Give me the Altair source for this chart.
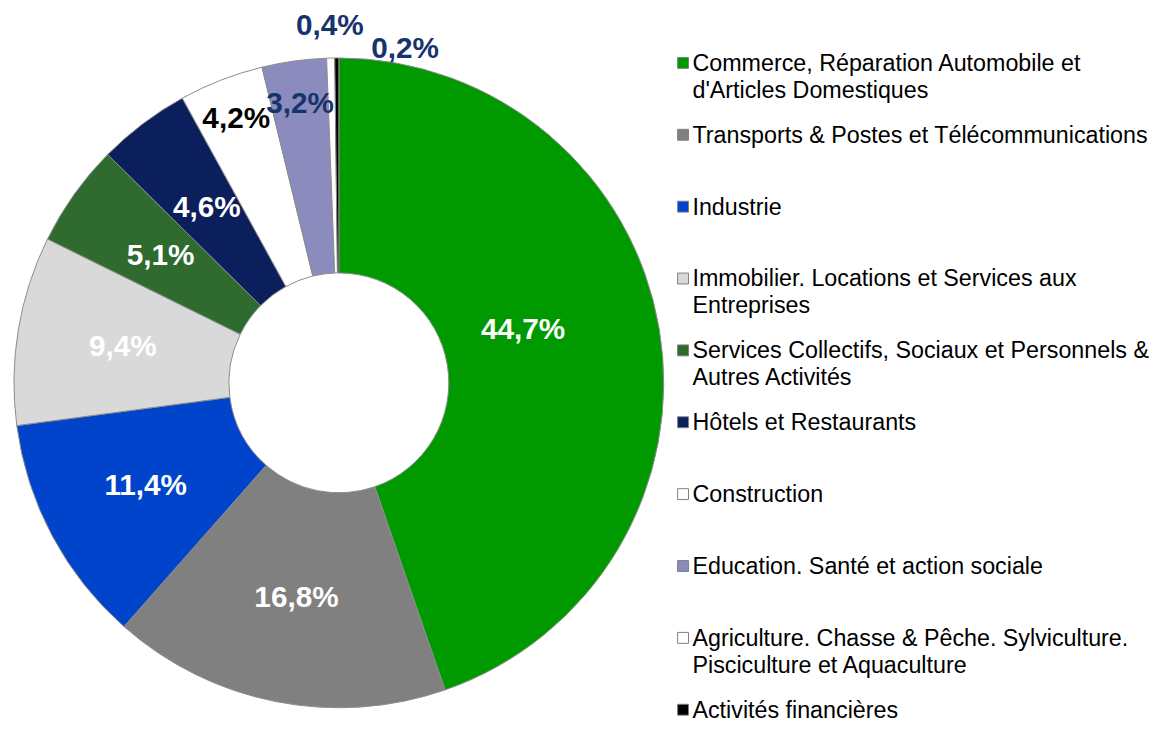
import math
import altair as alt
import pandas as pd

categories = [
    "Commerce, Réparation Automobile et d'Articles Domestiques",
    "Transports & Postes et Télécommunications",
    "Industrie",
    "Immobilier. Locations et Services aux Entreprises",
    "Services Collectifs, Sociaux et Personnels & Autres Activités",
    "Hôtels et Restaurants",
    "Construction",
    "Education. Santé et action sociale",
    "Agriculture. Chasse & Pêche. Sylviculture. Pisciculture et Aquaculture",
    "Activités financières",
]
legend_labels = [
    "Commerce, Réparation Automobile et\nd'Articles Domestiques",
    "Transports & Postes et Télécommunications",
    "Industrie",
    "Immobilier. Locations et Services aux\nEntreprises",
    "Services Collectifs, Sociaux et Personnels &\nAutres Activités",
    "Hôtels et Restaurants",
    "Construction",
    "Education. Santé et action sociale",
    "Agriculture. Chasse & Pêche. Sylviculture.\nPisciculture et Aquaculture",
    "Activités financières",
]
values = [44.7, 16.8, 11.4, 9.4, 5.1, 4.6, 4.2, 3.2, 0.4, 0.2]
colors = ["#009900", "#808080", "#0044cc", "#d9d9d9", "#2f6b2f",
          "#0a1f5c", "#ffffff", "#8b8bbd", "#ffffff", "#000000"]

df = pd.DataFrame({
    "cat": categories,
    "legend": legend_labels,
    "value": values,
    "order": list(range(len(values))),
    "label": [f"{v:.1f}".replace(".", ",") + "%" for v in values],
})

FONT = "Liberation Sans"
NAVY = "#17336e"
CX, CY = 334, 374
TWO_PI = 2 * math.pi

color_scale = alt.Scale(domain=categories, range=colors)
theta_scale = alt.Scale(domain=[0, 100], range=[0, TWO_PI])

base = alt.Chart(df)

arcs = base.mark_arc(outerRadius=328, innerRadius=111, stroke="#8c8c8c", strokeWidth=1).encode(
    theta=alt.Theta("value:Q", stack=True, scale=theta_scale),
    order=alt.Order("order:Q"),
    color=alt.Color("cat:N", scale=color_scale, legend=None),
    x=alt.value(CX),
    y=alt.value(CY),
)


def label_layer(cond, radius, color, dx=0, dy=0):
    return base.transform_filter(cond).mark_text(
        radius=radius, font=FONT, fontSize=30, fontWeight="bold", color=color,
        align="center", baseline="middle", dx=dx, dy=dy,
    ).encode(
        theta=alt.Theta("mid:Q", stack=None, scale=theta_scale),
        text="label:N",
        x=alt.value(CX),
        y=alt.value(CY),
    )


labels = [
    label_layer("datum.order == 0", 221, "white", dx=-32, dy=-17),
    label_layer("datum.order >= 1 && datum.order <= 5", 221, "white"),
    label_layer("datum.order == 6", 286, "black"),
    label_layer("datum.order == 7", 284, NAVY),
    label_layer("datum.order == 8", 360, NAVY),
    label_layer("datum.order == 9", 343, NAVY, dx=69, dy=6),
]

pie = alt.layer(arcs, *labels).transform_window(
    cum="sum(value)", sort=[alt.SortField("order")], frame=[None, 0]
).transform_calculate(
    mid="datum.cum - datum.value / 2"
).properties(width=660, height=719)

yenc = alt.Y("order:O", axis=None, scale=alt.Scale(type="point", padding=0, range=[51, 704]))

squares = alt.Chart(df).mark_square(size=121, stroke="#7f7f7f", strokeWidth=1, opacity=1).encode(
    x=alt.value(7.5),
    y=yenc,
    color=alt.Color("cat:N", scale=color_scale, legend=None),
)
texts = alt.Chart(df).mark_text(
    align="left", baseline="top", dy=-11, font=FONT, fontSize=23.5,
    lineBreak="\n", lineHeight=27, color="black", clip=True,
).encode(
    x=alt.value(17),
    y=yenc,
    text="legend:N",
)
legend = alt.layer(squares, texts).properties(width=488, height=719)

chart = alt.hconcat(pie, legend, spacing=10).properties(
    padding=0
).configure_view(stroke=None)

chart.save("out.html", embed_options={"renderer": "svg", "actions": False})
